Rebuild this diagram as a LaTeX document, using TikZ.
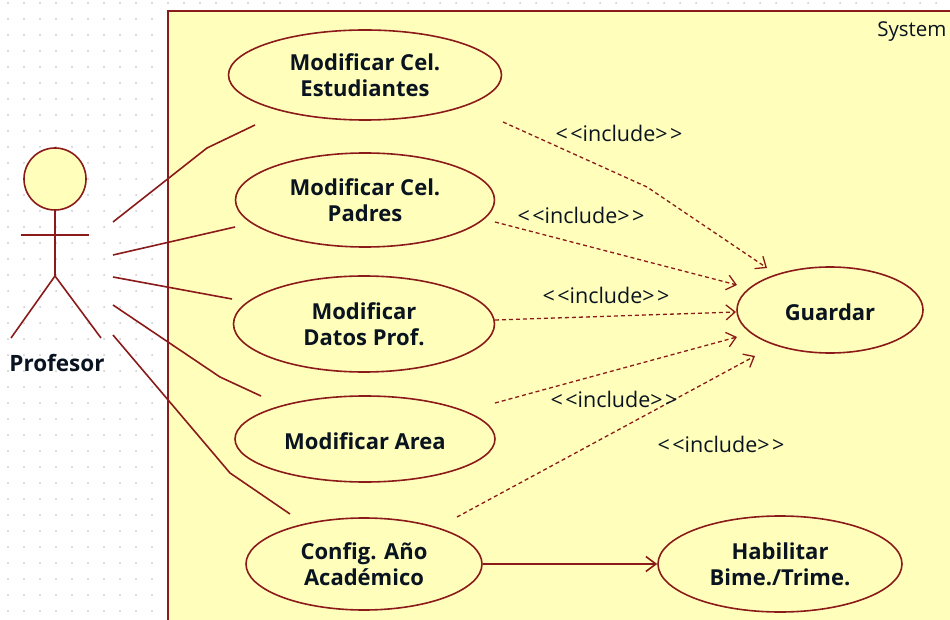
\documentclass[tikz,border=0pt]{standalone}
\usepackage{fontspec}
\setsansfont{Open Sans}
\usetikzlibrary{shapes.geometric}
\usetikzlibrary{arrows.meta}
\definecolor{umlline}{HTML}{8B1A1A}
\definecolor{umlfill}{HTML}{FFFFBB}
\definecolor{umldot}{HTML}{C8C8C8}
\definecolor{umltext}{HTML}{0A1420}
\newcommand{\incname}{<\kern2.5pt<include>\kern2.5pt>}
\tikzset{every picture/.style={/utils/exec={\sffamily}},
  every node/.style={align=center, text=umltext},
  usecase/.style={ % Properties of each use case
    ellipse, draw=umlline, fill=umlfill, line width=1.6pt, inner sep=0pt,
    font=\bfseries\fontsize{22}{26}\selectfont},
  assoc/.style={draw=umlline, line width=1.6pt},
  incl/.style={draw=umlline, line width=1.3pt, dash pattern=on 4pt off 3pt,
    -{Straight Barb[length=9pt,width=15pt]}},
  incltext/.style={font=\fontsize{21.5}{24}\selectfont},
}

\begin{document}
\begin{tikzpicture}[x=1pt,y=-1pt]
  \clip (0,0) rectangle (950,620);
  \fill[white] (0,0) rectangle (950,620);
  % dotted grid
  \foreach \x in {8,24,...,152}
    \foreach \y in {3,19,...,611}
      \fill[umldot] (\x,\y) circle (1pt);
  \foreach \x in {168,184,...,952}
    \fill[umldot] (\x,3) circle (1pt);

  \draw[umlline, line width=2.2pt, fill=umlfill] (168,11) rectangle (1000,700);
  \node[anchor=east, font=\fontsize{20.5}{24}\selectfont] (system) at (950,32) {System};

  \node [usecase, minimum width=273pt, minimum height=90pt] (eest) at (365,75) {Modificar Cel.\\Estudiantes};
  \node [usecase, minimum width=259pt, minimum height=94pt] (epadres) at (365,200) {Modificar Cel.\\Padres};
  \node [usecase, minimum width=261pt, minimum height=96pt] (edatos) at (364,324) {Modificar\\Datos Prof.};
  \node [usecase, minimum width=260pt, minimum height=86pt, text height=20pt, text depth=0pt] (earea) at (365,439) {Modificar Area};
  \node [usecase, minimum width=236pt, minimum height=92pt] (econfig) at (364,564) {Config. Año\\Académico};
  \node [usecase, minimum width=244pt, minimum height=96pt] (ehabil) at (780,564) {Habilitar\\Bime./Trime.};
  \node [usecase, minimum width=186pt, minimum height=86pt, text height=20pt, text depth=0pt] (guardar) at (830,310) {Guardar};

  % actor
  \node [circle, draw=umlline, fill=umlfill, line width=1.6pt, minimum size=62pt, inner sep=0pt] (profhead) at (55,179) {};
  \coordinate (profhip) at (55,276);
  \coordinate (armleft) at (21,235);
  \coordinate (armright) at (89,235);
  \coordinate (legleft) at (11,338);
  \coordinate (legright) at (101,338);
  \draw[assoc] (profhead) -- (profhip) -- (legleft);
  \draw[assoc] (profhip) -- (legright);
  \draw[assoc] (armleft) -- (armright);
  \node [font=\bfseries\fontsize{22.5}{24}\selectfont] (profesor) at (57,363) {Profesor};

  % associations
  \coordinate (actA) at (113,222);
  \coordinate (actB) at (113,255);
  \coordinate (actC) at (113,277);
  \coordinate (actD) at (113,305);
  \coordinate (actE) at (113,335);
  \coordinate (caseA) at (255,125);
  \coordinate (caseB) at (235,227);
  \coordinate (caseC) at (232,299);
  \coordinate (caseD) at (261,396);
  \coordinate (caseE) at (290,514);
  \draw[assoc] (actA) -- (207,148) -- (caseA);
  \draw[assoc] (actB) -- (caseB);
  \draw[assoc] (actC) -- (caseC);
  \draw[assoc] (actD) -- (220,377) -- (caseD);
  \draw[assoc] (actE) -- (230,473) -- (caseE);

  % includes
  \coordinate (inclA) at (503,122);
  \coordinate (inclB) at (495,222);
  \coordinate (inclC) at (495,320);
  \coordinate (inclD) at (495,403);
  \coordinate (inclE) at (457,517);
  \coordinate (guarA) at (767,268);
  \coordinate (guarB) at (737,285);
  \coordinate (guarC) at (736,312);
  \coordinate (guarD) at (737,337);
  \coordinate (guarE) at (755,356);
  \draw[incl] (inclA) -- (647,187) -- (guarA);
  \draw[incl] (inclB) -- (guarB);
  \draw[incl] (inclC) -- (guarC);
  \draw[incl] (inclD) -- (guarD);
  \draw[incl] (inclE) -- (guarE);
  \node [incltext] (ltA) at (619,133) {\incname};
  \node [incltext] (ltB) at (581,215) {\incname};
  \node [incltext] (ltC) at (606,295) {\incname};
  \node [incltext] (ltD) at (614,399) {\incname};
  \node [incltext] (ltE) at (721,444) {\incname};

  \draw[assoc, -{Straight Barb[length=10pt,width=15pt]}] (econfig) -- (ehabil);
\end{tikzpicture}
\end{document}
